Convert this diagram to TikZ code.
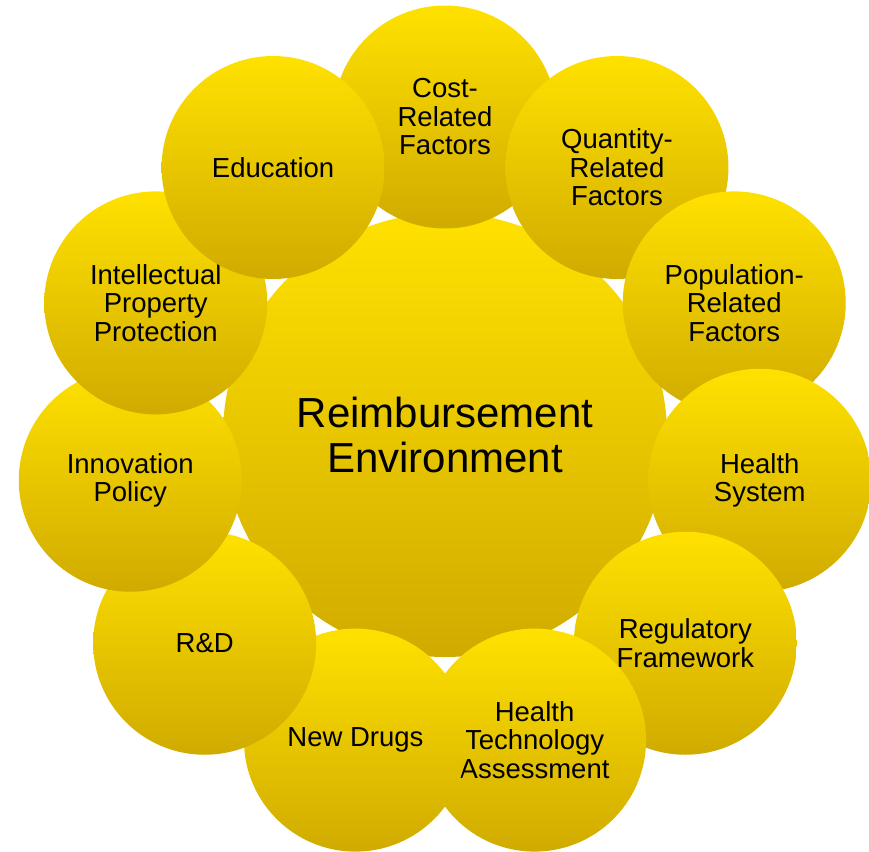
\documentclass[tikz,border=0pt]{standalone}
\usepackage{fontspec}
\setmainfont{Liberation Sans}
\definecolor{ytop}{RGB}{255,225,0}
\definecolor{ybot}{RGB}{208,171,0}
\tikzset{
  petal/.style={circle, inner sep=0pt, minimum size=223pt, top color=ytop, bottom color=ybot,
    align=center, text=black, font=\fontsize{27.5}{28.5}\selectfont},
  hub/.style={circle, inner sep=0pt, minimum size=444pt, top color=ytop, bottom color=ybot,
    align=center, text=black, font=\fontsize{42}{45.5}\selectfont}
}
\begin{document}
\begin{tikzpicture}[x=1pt,y=1pt]
\useasboundingbox (0,0) rectangle (869,-851);
\begin{scope}[shift={(445,-435)}]
\node[hub] (hub) at (0,0) {Reimbursement\\Environment};
\node[petal] (cost) at (90:318) {Cost-\\Related\\Factors};
\node[petal] (qty) at (57.27:318) {Quantity-\\Related\\Factors};
\node[petal] (pop) at (24.55:318) {Population-\\Related\\Factors};
\node[petal] (hs) at (-8.18:318) {Health\\System};
\node[petal] (reg) at (-40.91:318) {Regulatory\\Framework};
\node[petal] (hta) at (-73.64:318) {Health\\Technology\\Assessment};
\node[petal] (drugs) at (-106.36:318) {New Drugs};
\node[petal] (rd) at (-139.09:318) {R\&D};
\node[petal] (innov) at (-171.82:318) {Innovation\\Policy};
\node[petal] (ip) at (155.45:318) {Intellectual\\Property\\Protection};
\node[petal] (edu) at (122.73:318) {Education};
\end{scope}
\end{tikzpicture}
\end{document}
